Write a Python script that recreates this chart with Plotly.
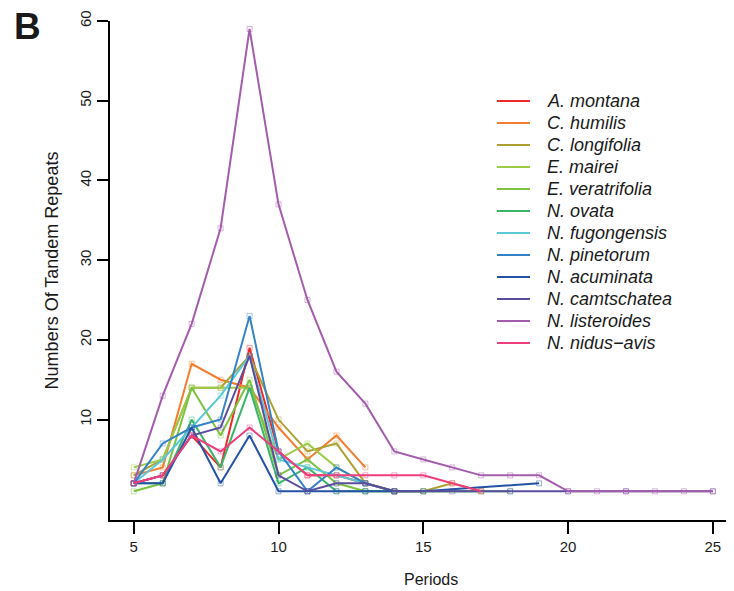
import plotly.graph_objects as go

# ---- data ----
species = ["A. montana", "C. humilis", "C. longifolia", "E. mairei", "E. veratrifolia",
           "N. ovata", "N. fugongensis", "N. pinetorum", "N. acuminata", "N. camtschatea",
           "N. listeroides", "N. nidus\u2212avis"]

montana_x = [5, 6, 7, 8, 9, 10, 11, 12, 13, 14]
montana_y = [2, 3, 8, 4, 19, 6, 3, 3, 2, 1]
humilis_x = [5, 6, 7, 8, 9, 10, 11, 12, 13]
humilis_y = [3, 4, 17, 15, 14, 9, 5, 8, 4]
longifolia_x = [5, 6, 7, 8, 9, 10, 11, 12, 13, 14, 15, 16, 17]
longifolia_y = [3, 5, 14, 14, 18, 10, 6, 7, 2, 1, 1, 2, 1]
mairei_x = [5, 6, 7, 8, 9, 10, 11, 12, 13, 14]
mairei_y = [4, 5, 14, 14, 14, 5, 7, 4, 2, 1]
veratrifolia_x = [5, 6, 7, 8, 9, 10, 11, 12, 13, 15, 17]
veratrifolia_y = [1, 2, 14, 8, 15, 3, 5, 2, 1, 1, 1]
ovata_x = [5, 6, 7, 8, 9, 10, 11, 12, 13, 18]
ovata_y = [2, 2, 10, 4, 14, 2, 4, 1, 1, 1]
fugongensis_x = [5, 6, 7, 8, 9, 10, 11, 12, 13]
fugongensis_y = [2, 5, 9, 13, 18, 5, 4, 3, 2]
pinetorum_x = [5, 6, 7, 8, 9, 10, 11, 12, 13, 14]
pinetorum_y = [2, 7, 9, 10, 23, 6, 1, 4, 2, 1]
acuminata_x = [5, 6, 7, 8, 9, 10, 11, 12, 13, 14, 15, 19]
acuminata_y = [2, 2, 9, 2, 8, 1, 1, 1, 1, 1, 1, 2]
camtschatea_x = [5, 6, 7, 8, 9, 10, 11, 12, 13, 14, 16, 18, 20, 22, 25]
camtschatea_y = [2, 3, 8, 9, 18, 3, 1, 2, 2, 1, 1, 1, 1, 1, 1]
listeroides_x = [5, 6, 7, 8, 9, 10, 11, 12, 13, 14, 15, 16, 17, 18, 19, 20, 21, 22, 23, 24, 25]
listeroides_y = [2, 13, 22, 34, 59, 37, 25, 16, 12, 6, 5, 4, 3, 3, 3, 1, 1, 1, 1, 1, 1]
nidus_x = [5, 6, 7, 8, 9, 10, 11, 12, 13, 14, 15, 16, 17]
nidus_y = [2, 3, 8, 6, 9, 6, 3, 3, 3, 3, 3, 2, 1]

xs = [montana_x, humilis_x, longifolia_x, mairei_x, veratrifolia_x, ovata_x,
      fugongensis_x, pinetorum_x, acuminata_x, camtschatea_x, listeroides_x, nidus_x]
ys = [montana_y, humilis_y, longifolia_y, mairei_y, veratrifolia_y, ovata_y,
      fugongensis_y, pinetorum_y, acuminata_y, camtschatea_y, listeroides_y, nidus_y]

colors = ["#EE2A2A", "#F47D2F", "#ADA032", "#9CCB48", "#7DC242", "#3AB56A",
          "#5BC8D8", "#3583C7", "#2453A5", "#5A4C9F", "#A45CAD", "#EE3E7E"]

x_ticks = [5, 10, 15, 20, 25]
y_ticks = [10, 20, 30, 40, 50, 60]

# ---- layout geometry (pixels inside the figure div) ----
W, H = 726, 583
ML, MR, MT, MB = 102, 0, 13, 71
PW, PH = W - ML - MR, H - MT - MB


def px_to_paper(px, py):
    return (px - ML) / PW, 1 - (py - MT) / PH


def light(hexc, a=0.45):
    r, g, b = int(hexc[1:3], 16), int(hexc[3:5], 16), int(hexc[5:7], 16)
    return f"rgba({r},{g},{b},{a})"


fig = go.Figure()
for name, x, y, c in zip(species, xs, ys, colors):
    fig.add_trace(go.Scatter(
        x=x, y=y, name=name, mode="lines+markers",
        line=dict(color=c, width=2),
        marker=dict(symbol="square-open", size=5, color=light(c),
                    line=dict(color=light(c), width=1)),
        cliponaxis=False, showlegend=False,
    ))

FONT = "Liberation Sans, Arial, sans-serif"
axis_font = dict(family=FONT, size=15, color="#1a1a1a")

fig.update_layout(
    width=W, height=H,
    margin=dict(l=ML, r=MR, t=MT, b=MB, autoexpand=False),
    paper_bgcolor="white", plot_bgcolor="white",
    font=axis_font,
    xaxis=dict(range=[4.18, 25.73], tickvals=x_ticks, ticks="outside", ticklen=12,
               tickwidth=1.5, tickcolor="black", showline=True, linecolor="black",
               linewidth=2, showgrid=False, zeroline=False, tickfont=axis_font),
    yaxis=dict(range=[-2.6, 60], tickvals=y_ticks, ticks="outside", ticklen=11,
               tickwidth=1.5, tickcolor="black", showline=True, linecolor="black",
               linewidth=2, showgrid=False, zeroline=False, tickangle=-90,
               title=dict(text="Numbers Of Tandem Repeats", standoff=14), tickfont=axis_font),
)

# x-axis title
tx, ty = px_to_paper(423, 571)
fig.add_annotation(text="Periods", xref="paper", yref="paper", x=tx, y=ty,
                   xanchor="center", yanchor="middle", showarrow=False,
                   font=dict(family=FONT, size=16, color="#1a1a1a"))

# legend (drawn in paper space, one row per species)
for i, (name, c) in enumerate(zip(species, colors)):
    ry = 93 + 22 * i
    x0, y0 = px_to_paper(489, ry)
    x1, _ = px_to_paper(522, ry)
    fig.add_shape(type="line", xref="paper", yref="paper", x0=x0, x1=x1, y0=y0, y1=y0,
                  line=dict(color=c, width=2))
    lx, ly = px_to_paper(537, ry)
    fig.add_annotation(text=name, xref="paper", yref="paper", x=lx, y=ly,
                       xanchor="left", yanchor="middle", showarrow=False,
                       font=dict(family=FONT, size=18, style="italic", color="#1a1a1a"))

bx, by = px_to_paper(19, 18)
fig.add_annotation(text="<b>B</b>", xref="paper", yref="paper", x=bx, y=by,
                   xanchor="center", yanchor="middle", showarrow=False, height=34,
                   font=dict(family=FONT, size=37, color="#1a1a1a"))

fig.write_html("out.html")
